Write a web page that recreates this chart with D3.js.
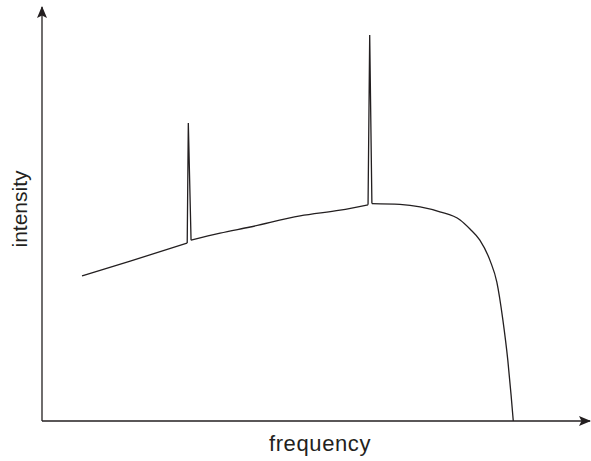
<!DOCTYPE html>
<html>
<head>
<meta charset="utf-8">
<script src="https://cdn.jsdelivr.net/npm/d3@7"></script>
<style>
	body { margin: 0; background: #fff; }
	text { font-family: "Liberation Sans", Arial, sans-serif; fill: #231f20; }
</style>
</head>
<body>
<div id="chart"></div>
<script>
// continuum + lines, in arbitrary units (0-100)
const freq = [7.3, 16.1, 26.5, 26.7, 27.2, 32.5, 38.0, 47.1, 54.4, 59.5, 59.8, 60.2, 65.3, 69.0, 72.6, 76.3, 78.1, 79.9, 81.8, 83.0, 84.1, 85.0, 85.6, 86.0];
const intensity = [35.3, 38.9, 43.3, 72.5, 44.0, 45.7, 47.2, 49.9, 51.3, 52.6, 93.9, 52.9, 52.7, 52.1, 50.9, 48.9, 46.7, 44.0, 38.9, 33.8, 24.6, 14.8, 6.3, 0];
// indices of the emission line peaks
const peaks = [3, 10];

const xLabel = "frequency";
const yLabel = "intensity";

const width = 591, height = 461;

const svg = d3.select("#chart")
	.append("svg")
	.attr("width", width)
	.attr("height", height);

const x = d3.scaleLinear().domain([0, 100]).range([42, 590]);
const y = d3.scaleLinear().domain([0, 100]).range([421, 10]);

const defs = svg.append("defs");
defs.append("marker")
	.attr("id", "arrow")
	.attr("viewBox", "0 0 12 10")
	.attr("refX", 11)
	.attr("refY", 5)
	.attr("markerWidth", 12)
	.attr("markerHeight", 10)
	.attr("markerUnits", "userSpaceOnUse")
	.attr("orient", "auto")
	.append("path")
	.attr("d", "M0,0 L12,5 L0,10 L2.5,5 Z")
	.attr("fill", "#231f20");

// axes
svg.append("line")
	.attr("x1", x(0)).attr("y1", y(0))
	.attr("x2", x(0)).attr("y2", y(100) - 3)
	.attr("stroke", "#231f20")
	.attr("stroke-width", 1.3)
	.attr("marker-end", "url(#arrow)");

svg.append("line")
	.attr("x1", x(0)).attr("y1", y(0))
	.attr("x2", x(100)).attr("y2", y(0))
	.attr("stroke", "#231f20")
	.attr("stroke-width", 1.3)
	.attr("marker-end", "url(#arrow)");

svg.append("text")
	.attr("x", 320)
	.attr("y", 451)
	.attr("text-anchor", "middle")
	.attr("font-size", 22)
	.attr("letter-spacing", 0.6)
	.text(xLabel);

svg.append("text")
	.attr("transform", "translate(27," + 209 + ") rotate(-90)")
	.attr("text-anchor", "middle")
	.attr("font-size", 21)
	.text(yLabel);

// split data: smooth continuum pieces, straight spikes
const pts = freq.map((f, i) => [f, intensity[i]]);
const pieces = [];
let start = 0;
peaks.forEach((p) => {
	pieces.push({ curve: d3.curveMonotoneX, d: pts.slice(start, p) });
	pieces.push({ curve: d3.curveLinear, d: pts.slice(p - 1, p + 2) });
	start = p + 1;
});
pieces.push({ curve: d3.curveMonotoneX, d: pts.slice(start) });

svg.append("g")
	.selectAll("path")
	.data(pieces)
	.enter()
	.append("path")
	.attr("d", (d) => d3.line().x((p) => x(p[0])).y((p) => y(p[1])).curve(d.curve)(d.d))
	.attr("fill", "none")
	.attr("stroke", "#231f20")
	.attr("stroke-width", 1.3)
	.attr("stroke-linejoin", "miter");
</script>
</body>
</html>
